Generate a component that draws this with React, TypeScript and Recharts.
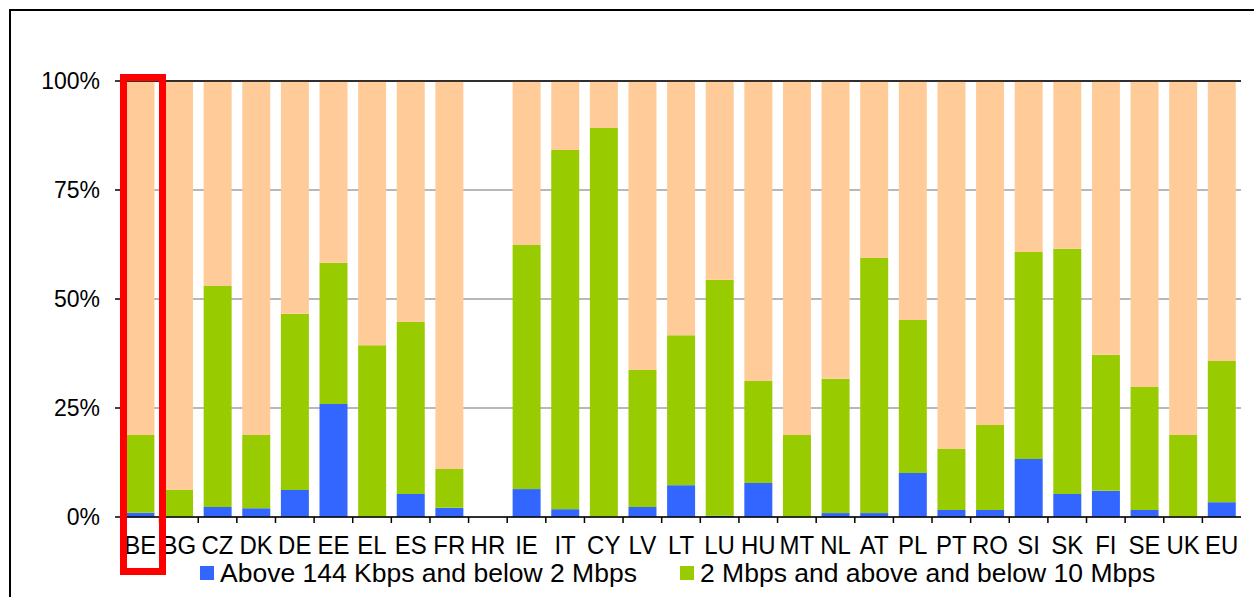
import { BarChart, Bar, XAxis, YAxis, CartesianGrid, ReferenceLine } from 'recharts'

const categories = ['BE', 'BG', 'CZ', 'DK', 'DE', 'EE', 'EL', 'ES', 'FR', 'HR', 'IE', 'IT', 'CY', 'LV', 'LT', 'LU', 'HU', 'MT', 'NL', 'AT', 'PL', 'PT', 'RO', 'SI', 'SK', 'FI', 'SE', 'UK', 'EU']
const lowSpeed = [1, 0, 2.3, 2, 6.2, 25.9, 0, 5.3, 2.1, 0, 6.4, 1.8, 0, 2.3, 7.3, 0.3, 7.8, 0, 0.9, 0.9, 10.1, 1.6, 1.6, 13.3, 5.3, 6, 1.6, 0, 3.4]
const midSpeed = [17.8, 6.2, 50.7, 16.8, 40.4, 32.4, 39.4, 39.4, 8.9, 0, 56, 82.4, 89.2, 31.4, 34.4, 54.1, 23.4, 18.8, 30.8, 58.5, 35.1, 14, 19.5, 47.5, 56.2, 31.2, 28.2, 18.8, 32.4]
const highSpeed = [81.2, 93.8, 47, 81.2, 53.4, 41.7, 60.6, 55.3, 89, 0, 37.6, 15.8, 10.8, 66.3, 58.3, 45.6, 68.8, 81.2, 68.3, 40.6, 54.8, 84.4, 78.9, 39.2, 38.5, 62.8, 70.2, 81.2, 64.2]
const yTicks = [0, 25, 50, 75, 100]

const legendItems = [
  { label: 'Above 144 Kbps and below 2 Mbps', color: '#3366FF', left: 200 },
  { label: '2 Mbps and above and below 10 Mbps', color: '#99CC00', left: 680 },
]

const data = categories.map((c, i) => ({
  name: c,
  low: lowSpeed[i],
  mid: midSpeed[i],
  high: highSpeed[i],
}))

const W = 1254
const H = 597
const margin = { top: 81, right: 13, left: 41, bottom: 50 }
const yAxisWidth = 80
const bandWidth = (W - margin.left - margin.right - yAxisWidth) / categories.length

const FONT = '"Liberation Sans", Arial, sans-serif'

const CategoryTick = ({ x, y, payload }: any) => {
  const left = x - bandWidth / 2
  return (
    <g>
      <line x1={left} y1={y - 8} x2={left} y2={y - 2} stroke="#000" strokeWidth={1.5} />
      <text x={x} y={y + 29} textAnchor="middle" fill="#000" fontSize={24} fontFamily={FONT} transform={`translate(0 ${-(y + 29) * 0.08}) scale(1 1.08)`}>
        {payload.value}
      </text>
    </g>
  )
}

export default function App() {
  return (
    <div style={{ position: 'absolute', left: 0, top: 0, width: W, height: H, overflow: 'hidden', background: '#fff' }}>
      {/* outer frame */}
      <div style={{ position: 'absolute', left: 9, top: 9, width: 1400, height: 800, borderTop: '2px solid #000', borderLeft: '2px solid #000' }} />

      <BarChart width={W} height={H} data={data} margin={margin} barCategoryGap="14%">
        <CartesianGrid vertical={false} stroke="#A0A0A0" strokeWidth={1.5} />
        <XAxis
          dataKey="name"
          stroke="#000"
          strokeWidth={1.5}
          tickLine={false}
          tickSize={6}
          tickMargin={2}
          height={30}
          interval={0}
          tick={<CategoryTick />}
        />
        <YAxis
          domain={[0, 100]}
          ticks={yTicks}
          width={yAxisWidth}
          stroke="#000"
          strokeWidth={1.5}
          tickSize={6}
          tickMargin={15}
          tickFormatter={(v) => `${v}%`}
          tick={{ fill: '#000', fontSize: 23, fontFamily: FONT }}
        />
        <YAxis
          yAxisId="right"
          orientation="right"
          domain={[0, 100]}
          width={0}
          tick={false}
          tickLine={false}
          stroke="#666"
          strokeWidth={2}
        />
        <Bar dataKey="low" stackId="a" fill="#3366FF" isAnimationActive={false} />
        <Bar dataKey="mid" stackId="a" fill="#99CC00" isAnimationActive={false} />
        <Bar dataKey="high" stackId="a" fill="#FFCC99" isAnimationActive={false} />
        <ReferenceLine y={100} stroke="#000" strokeWidth={1.5} />
      </BarChart>

      {/* highlight box round BE */}
      <div style={{ position: 'absolute', left: 120, top: 74, width: 46, height: 501, boxSizing: 'border-box', border: '7px solid #FF0000' }} />

      {/* legend */}
      {legendItems.map((item) => (
        <div
          key={item.label}
          style={{ position: 'absolute', left: item.left, top: 557, display: 'flex', alignItems: 'center', fontFamily: FONT, fontSize: 26.5, color: '#000', whiteSpace: 'nowrap', lineHeight: '32px' }}
        >
          <span style={{ display: 'inline-block', width: 14, height: 14, background: item.color, marginRight: 6 }} />
          {item.label}
        </div>
      ))}
    </div>
  )
}
